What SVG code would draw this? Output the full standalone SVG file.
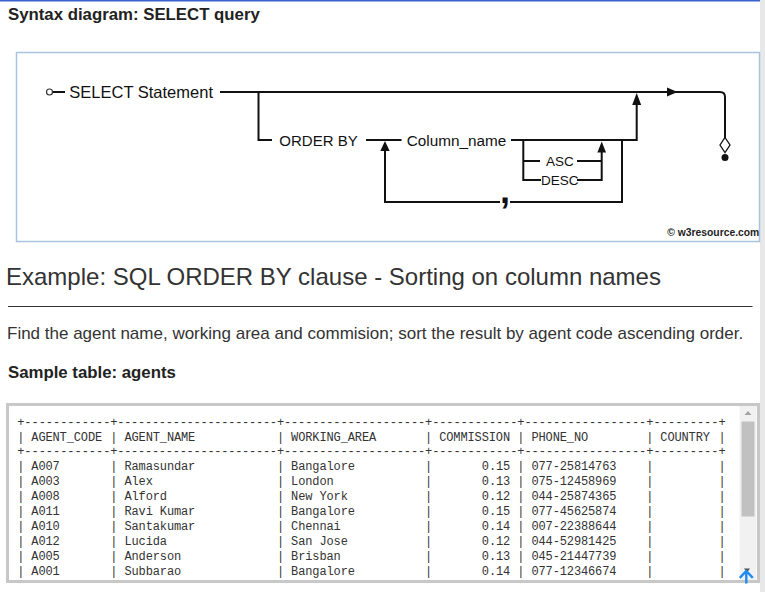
<svg xmlns="http://www.w3.org/2000/svg" width="765" height="592" viewBox="0 0 765 592">
<style>
.sans{font-family:"Liberation Sans",Arial,sans-serif}
.bold{font-weight:bold}
.lbl{font-family:"Liberation Sans",Arial,sans-serif;fill:#111}
.ln{stroke:#111;stroke-width:2;fill:none}
.ah{fill:#111}
.mono{font-family:"Liberation Mono","DejaVu Sans Mono",monospace;font-size:12px;letter-spacing:-0.12px;fill:#333}
.bar{text-anchor:middle}
</style>
<defs>
<clipPath id="tclip"><rect x="9" y="406" width="730" height="174"/></clipPath>
</defs>
<rect x="0" y="0" width="765" height="592" fill="#ffffff"/>
<rect x="0" y="0" width="765" height="1.5" fill="#3d5fd0"/>
<rect x="760" y="0" width="5" height="592" fill="#e8e8e8"/>

<text class="sans bold" x="8" y="20" font-size="16.8" fill="#222">Syntax diagram: SELECT query</text>

<rect x="16.5" y="52.5" width="743" height="189" fill="#ffffff" stroke="#a9c4df" stroke-width="1.5"/>

<g id="connectors">
  <line class="ln" x1="52.5" y1="92" x2="65" y2="92"/>
  <path class="ln" d="M220,92 H720 Q725,92 725,97 V138"/>
  <polygon class="ah" points="667,87.5 677.5,92 667,96.5"/>
  <path class="ln" d="M258.5,92 V140 H272"/>
  <line class="ln" x1="366" y1="140" x2="401.5" y2="140"/>
  <path class="ln" d="M511,140 H636.7 V104"/>
  <polygon class="ah" points="632.2,105 641.2,105 636.7,93"/>
  <path class="ln" d="M622,140 V202 H510"/>
  <path class="ln" d="M500,202 H385 V150"/>
  <polygon class="ah" points="380.3,151 389.7,151 385,141"/>
  <path class="ln" d="M523.3,140 V180 H541"/>
  <line class="ln" x1="523.3" y1="161" x2="540" y2="161"/>
  <line class="ln" x1="577" y1="161" x2="601.7" y2="161"/>
  <path class="ln" d="M577,180 H601.7 V152"/>
  <polygon class="ah" points="597.4,152.5 606,152.5 601.7,141.5"/>
</g>

<g id="start"><circle cx="49.5" cy="92" r="3" fill="#fff" stroke="#333" stroke-width="1.2"/></g>
<g id="select-statement"><text class="lbl" x="69.3" y="97.5" font-size="16.5">SELECT Statement</text></g>
<g id="order-by"><text class="lbl" x="279.3" y="145.5" font-size="15">ORDER BY</text></g>
<g id="column-name"><text class="lbl" x="406.7" y="145.5" font-size="15.3">Column_name</text></g>
<g id="asc"><text class="lbl" x="546" y="165.8" font-size="13.5">ASC</text></g>
<g id="desc"><text class="lbl" x="541" y="184.8" font-size="13.5">DESC</text></g>
<g id="comma"><text class="lbl bold" x="505" y="202.5" font-size="36" text-anchor="middle">,</text></g>
<g id="end">
  <polygon points="725,137.5 730,145 725,152.5 720,145" fill="#fff" stroke="#111" stroke-width="1.3"/>
  <circle cx="725" cy="157.5" r="3.5" fill="#111"/>
</g>
<text class="sans bold" x="667.3" y="236" font-size="10.5" fill="#222" textLength="92" lengthAdjust="spacingAndGlyphs">© w3resource.com</text>

<text class="sans" x="6" y="285" font-size="24" fill="#333">Example: SQL ORDER BY clause - Sorting on column names</text>
<line x1="8" y1="306.5" x2="752.5" y2="306.5" stroke="#333" stroke-width="1.2"/>
<text class="sans" x="7" y="339" font-size="17" fill="#333">Find the agent name, working area and commision; sort the result by agent code ascending order.</text>
<text class="sans bold" x="8" y="378" font-size="16.8" fill="#222">Sample table: agents</text>

<g id="agents-table">
  <rect x="7.5" y="404.5" width="751" height="177" fill="#ffffff" stroke="#c8c8c8" stroke-width="3"/>
  <g clip-path="url(#tclip)">
    <g id="border-top">
      <text class="mono" x="17.16" y="426" textLength="93.1" lengthAdjust="spacing">+------------</text>
      <text class="mono" x="110.26" y="426" textLength="166.7" lengthAdjust="spacing">+-----------------------</text>
      <text class="mono" x="276.96" y="426" textLength="148.1" lengthAdjust="spacing">+--------------------</text>
      <text class="mono" x="425.06" y="426" textLength="92.2" lengthAdjust="spacing">+------------</text>
      <text class="mono" x="517.26" y="426" textLength="128.9" lengthAdjust="spacing">+-----------------</text>
      <text class="mono" x="646.16" y="426" textLength="72.3" lengthAdjust="spacing">+---------</text>
      <text class="mono" x="718.46" y="426">+</text>
    </g>
    <g id="border-mid">
      <text class="mono" x="17.16" y="455" textLength="93.1" lengthAdjust="spacing">+------------</text>
      <text class="mono" x="110.26" y="455" textLength="166.7" lengthAdjust="spacing">+-----------------------</text>
      <text class="mono" x="276.96" y="455" textLength="148.1" lengthAdjust="spacing">+--------------------</text>
      <text class="mono" x="425.06" y="455" textLength="92.2" lengthAdjust="spacing">+------------</text>
      <text class="mono" x="517.26" y="455" textLength="128.9" lengthAdjust="spacing">+-----------------</text>
      <text class="mono" x="646.16" y="455" textLength="72.3" lengthAdjust="spacing">+---------</text>
      <text class="mono" x="718.46" y="455">+</text>
    </g>
    <g id="header-separators">
      <text class="mono bar" x="20.7" y="440.5">|</text>
      <text class="mono bar" x="113.8" y="440.5">|</text>
      <text class="mono bar" x="280.5" y="440.5">|</text>
      <text class="mono bar" x="428.6" y="440.5">|</text>
      <text class="mono bar" x="520.8" y="440.5">|</text>
      <text class="mono bar" x="649.7" y="440.5">|</text>
      <text class="mono bar" x="722" y="440.5">|</text>
    </g>
    <g id="column-separators">
      <text class="mono bar" x="20.7 20.7 20.7 20.7 20.7 20.7 20.7 20.7" y="470 485 500 515 530 545 560 575">||||||||</text>
      <text class="mono bar" x="113.8 113.8 113.8 113.8 113.8 113.8 113.8 113.8" y="470 485 500 515 530 545 560 575">||||||||</text>
      <text class="mono bar" x="280.5 280.5 280.5 280.5 280.5 280.5 280.5 280.5" y="470 485 500 515 530 545 560 575">||||||||</text>
      <text class="mono bar" x="428.6 428.6 428.6 428.6 428.6 428.6 428.6 428.6" y="470 485 500 515 530 545 560 575">||||||||</text>
      <text class="mono bar" x="520.8 520.8 520.8 520.8 520.8 520.8 520.8 520.8" y="470 485 500 515 530 545 560 575">||||||||</text>
      <text class="mono bar" x="649.7 649.7 649.7 649.7 649.7 649.7 649.7 649.7" y="470 485 500 515 530 545 560 575">||||||||</text>
      <text class="mono bar" x="722 722 722 722 722 722 722 722" y="470 485 500 515 530 545 560 575">||||||||</text>
    </g>
    <g id="header-row">
      <text class="mono" x="31.3" y="440.5">AGENT_CODE</text>
      <text class="mono" x="124.4" y="440.5">AGENT_NAME</text>
      <text class="mono" x="291.1" y="440.5">WORKING_AREA</text>
      <text class="mono" x="439.2" y="440.5">COMMISSION</text>
      <text class="mono" x="531.4" y="440.5">PHONE_NO</text>
      <text class="mono" x="660.3" y="440.5">COUNTRY</text>
    </g>
    <g id="data-rows">
      <text class="mono" x="31.3" y="470">A007</text><text class="mono" x="124.4" y="470">Ramasundar</text><text class="mono" x="291.1" y="470">Bangalore</text><text class="mono" x="510.2" y="470" text-anchor="end">0.15</text><text class="mono" x="531.4" y="470">077-25814763</text>
      <text class="mono" x="31.3" y="485">A003</text><text class="mono" x="124.4" y="485">Alex</text><text class="mono" x="291.1" y="485">London</text><text class="mono" x="510.2" y="485" text-anchor="end">0.13</text><text class="mono" x="531.4" y="485">075-12458969</text>
      <text class="mono" x="31.3" y="500">A008</text><text class="mono" x="124.4" y="500">Alford</text><text class="mono" x="291.1" y="500">New York</text><text class="mono" x="510.2" y="500" text-anchor="end">0.12</text><text class="mono" x="531.4" y="500">044-25874365</text>
      <text class="mono" x="31.3" y="515">A011</text><text class="mono" x="124.4" y="515">Ravi Kumar</text><text class="mono" x="291.1" y="515">Bangalore</text><text class="mono" x="510.2" y="515" text-anchor="end">0.15</text><text class="mono" x="531.4" y="515">077-45625874</text>
      <text class="mono" x="31.3" y="530">A010</text><text class="mono" x="124.4" y="530">Santakumar</text><text class="mono" x="291.1" y="530">Chennai</text><text class="mono" x="510.2" y="530" text-anchor="end">0.14</text><text class="mono" x="531.4" y="530">007-22388644</text>
      <text class="mono" x="31.3" y="545">A012</text><text class="mono" x="124.4" y="545">Lucida</text><text class="mono" x="291.1" y="545">San Jose</text><text class="mono" x="510.2" y="545" text-anchor="end">0.12</text><text class="mono" x="531.4" y="545">044-52981425</text>
      <text class="mono" x="31.3" y="560">A005</text><text class="mono" x="124.4" y="560">Anderson</text><text class="mono" x="291.1" y="560">Brisban</text><text class="mono" x="510.2" y="560" text-anchor="end">0.13</text><text class="mono" x="531.4" y="560">045-21447739</text>
      <text class="mono" x="31.3" y="575">A001</text><text class="mono" x="124.4" y="575">Subbarao</text><text class="mono" x="291.1" y="575">Bangalore</text><text class="mono" x="510.2" y="575" text-anchor="end">0.14</text><text class="mono" x="531.4" y="575">077-12346674</text>
    </g>
  </g>
  <g id="scrollbar">
    <rect x="739.5" y="406" width="17" height="174" fill="#f1f1f1"/>
    <rect x="741.5" y="421.5" width="13" height="95" fill="#c1c1c1"/>
    <polygon points="744.5,415 751.5,415 748,411" fill="#a3a3a3"/>
    <polygon points="744,568.5 750,568.5 747,572.5" fill="#505050"/>
  </g>
  <g id="back-to-top">
    <path d="M746.3,571.5 V583.5 M739.8,577.8 L746.3,571 L752.8,577.8" fill="none" stroke="#1e8cf0" stroke-width="2.4"/>
  </g>
</g>
</svg>
